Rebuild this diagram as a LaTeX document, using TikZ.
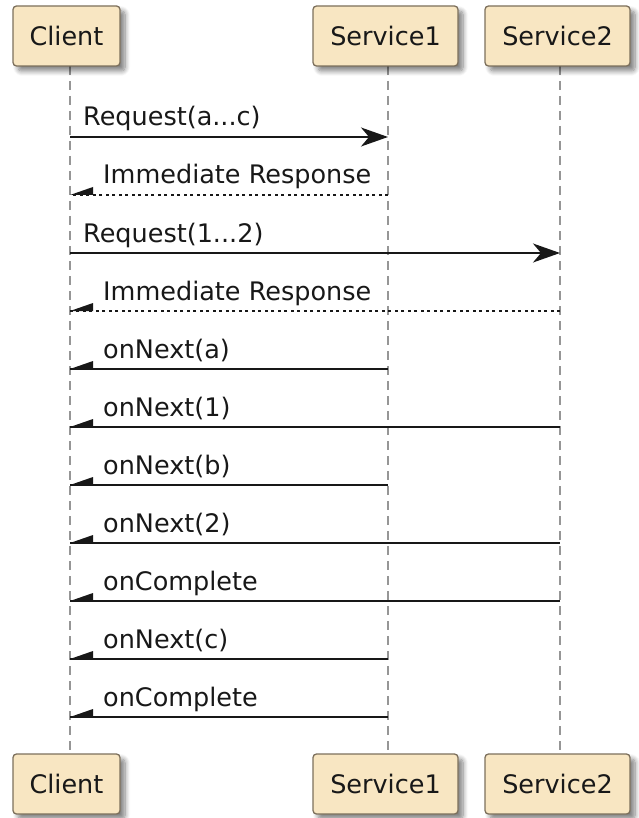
\documentclass[tikz,border=0pt]{standalone}
\usepackage{fontspec}
\setmainfont{DejaVu Sans}
\usetikzlibrary{arrows.meta,shadows.blur}
\definecolor{boxfill}{RGB}{248,230,194}
\definecolor{boxline}{RGB}{125,112,92}
\definecolor{ink}{RGB}{24,24,24}
\definecolor{lifecol}{RGB}{150,150,150}
\begin{document}
\begin{tikzpicture}[x=1pt,y=-1pt,
  part/.style={draw=boxline, line width=1.3pt, fill=boxfill, rounded corners=3.5pt,
    minimum height=60pt, text=ink, inner sep=0pt,
    font=\fontsize{25.5}{30}\selectfont,
    blur shadow={shadow xshift=5pt, shadow yshift=-5pt, shadow blur radius=5pt, shadow blur steps=8, shadow opacity=50}},
  life/.style={draw=lifecol, line width=1.2pt, dash pattern=on 9pt off 6pt},
  call/.style={draw=ink, line width=1.8pt, -{Stealth[length=27pt,width=19pt,inset=8pt]}},
  ret/.style={draw=ink, line width=1.8pt},
  retdash/.style={draw=ink, line width=1.4pt, dash pattern=on 3pt off 3.5pt},
  half/.style={fill=ink},
  lbl/.style={anchor=base west, inner sep=0pt, text=ink, font=\fontsize{25.5}{30}\selectfont}
]
\useasboundingbox (0,0) rectangle (638,818);

% lifelines
\coordinate (ctop) at (70,66);   \coordinate (cbot) at (70,754);
\coordinate (s1top) at (388,66); \coordinate (s1bot) at (388,754);
\coordinate (s2top) at (560,66); \coordinate (s2bot) at (560,754);
\draw[life] (ctop) -- (cbot);
\draw[life] (s1top) -- (s1bot);
\draw[life] (s2top) -- (s2bot);

% participants
\node[part, minimum width=107pt] (clientT) at (66.5,36) {Client};
\node[part, minimum width=145pt] (s1T) at (385.5,36) {Service1};
\node[part, minimum width=145pt] (s2T) at (557.5,36) {Service2};
\node[part, minimum width=107pt] (clientB) at (66.5,784) {Client};
\node[part, minimum width=145pt] (s1B) at (385.5,784) {Service1};
\node[part, minimum width=145pt] (s2B) at (557.5,784) {Service2};

% message anchor points
\foreach \i/\y in {1/137,2/195,3/253,4/311,5/369,6/427,7/485,8/543,9/601,10/659,11/717}{
  \coordinate (c\i) at (70,\y);
  \coordinate (a\i) at (388,\y);
  \coordinate (b\i) at (560,\y);
}

% 1 Request(a...c)
\draw[call] (c1) -- (a1);
\node[lbl] (l1) at ([shift={(13,-11)}]c1) {Request(a...c)};
% 2 Immediate Response
\draw[retdash] (a2) -- (c2);
\fill[half] (c2) -- ++(23,-8) -- ++(0,8) -- cycle;
\node[lbl] (l2) at ([shift={(33,-11)}]c2) {Immediate Response};
% 3 Request(1...2)
\draw[call] (c3) -- (b3);
\node[lbl] (l3) at ([shift={(13,-11)}]c3) {Request(1...2)};
% 4 Immediate Response
\draw[retdash] (b4) -- (c4);
\fill[half] (c4) -- ++(23,-8) -- ++(0,8) -- cycle;
\node[lbl] (l4) at ([shift={(33,-11)}]c4) {Immediate Response};
% 5 onNext(a)
\draw[ret] (a5) -- (c5);
\fill[half] (c5) -- ++(23,-8) -- ++(0,8) -- cycle;
\node[lbl] (l5) at ([shift={(33,-11)}]c5) {onNext(a)};
% 6 onNext(1)
\draw[ret] (b6) -- (c6);
\fill[half] (c6) -- ++(23,-8) -- ++(0,8) -- cycle;
\node[lbl] (l6) at ([shift={(33,-11)}]c6) {onNext(1)};
% 7 onNext(b)
\draw[ret] (a7) -- (c7);
\fill[half] (c7) -- ++(23,-8) -- ++(0,8) -- cycle;
\node[lbl] (l7) at ([shift={(33,-11)}]c7) {onNext(b)};
% 8 onNext(2)
\draw[ret] (b8) -- (c8);
\fill[half] (c8) -- ++(23,-8) -- ++(0,8) -- cycle;
\node[lbl] (l8) at ([shift={(33,-11)}]c8) {onNext(2)};
% 9 onComplete
\draw[ret] (b9) -- (c9);
\fill[half] (c9) -- ++(23,-8) -- ++(0,8) -- cycle;
\node[lbl] (l9) at ([shift={(33,-11)}]c9) {onComplete};
% 10 onNext(c)
\draw[ret] (a10) -- (c10);
\fill[half] (c10) -- ++(23,-8) -- ++(0,8) -- cycle;
\node[lbl] (l10) at ([shift={(33,-11)}]c10) {onNext(c)};
% 11 onComplete
\draw[ret] (a11) -- (c11);
\fill[half] (c11) -- ++(23,-8) -- ++(0,8) -- cycle;
\node[lbl] (l11) at ([shift={(33,-11)}]c11) {onComplete};
\end{tikzpicture}
\end{document}
